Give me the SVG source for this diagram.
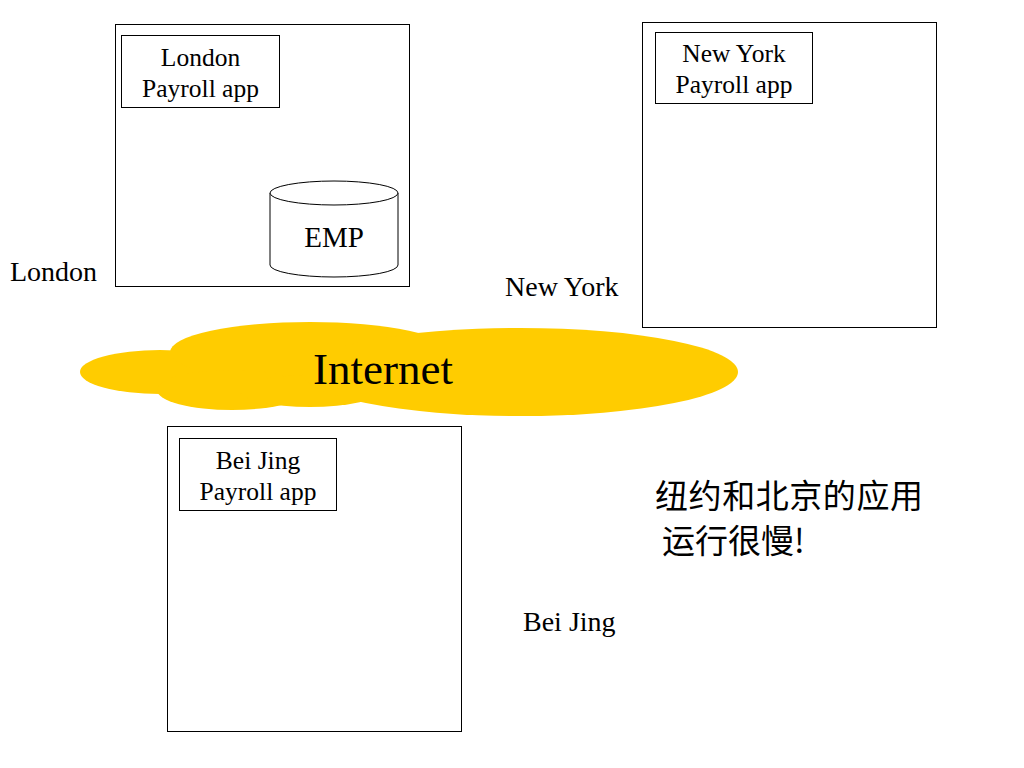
<svg xmlns="http://www.w3.org/2000/svg" width="1024" height="768" viewBox="0 0 1024 768">
<style>
.box{fill:#fff;stroke:#000;stroke-width:1}
.t{font-family:"Liberation Serif","Times New Roman",serif;font-size:25.5px;fill:#000}
.l{font-family:"Liberation Serif","Times New Roman",serif;font-size:28px;fill:#000}
.m{text-anchor:middle}
.cloud{fill:#FFCC00}
.zh{font-family:"Noto Sans CJK SC",sans-serif;font-size:33px;fill:#000}
</style>
<rect width="1024" height="768" fill="#fff"/>
<g id="internet">
<ellipse class="cloud" cx="160" cy="372" rx="80" ry="22"/>
<ellipse class="cloud" cx="310" cy="352" rx="140" ry="30"/>
<ellipse class="cloud" cx="232" cy="390" rx="75" ry="20"/>
<ellipse class="cloud" cx="310" cy="391" rx="70" ry="16"/>
<ellipse class="cloud" cx="520" cy="372" rx="218" ry="44"/>
<text x="313" y="384" style="font-family:'Liberation Serif',serif;font-size:45px">Internet</text>
</g>
<g id="london">
<rect class="box" x="115.5" y="24.5" width="294" height="262"/>
<g id="london-app">
<rect class="box" x="121.5" y="35.5" width="158" height="72"/>
<text class="t m" x="200.5" y="66">London</text>
<text class="t m" x="200.5" y="97">Payroll app</text>
</g>
<g id="emp">
<path d="M270,193 V265 A64,12 0 0 0 398,265 V193" fill="#fff" stroke="#000"/>
<ellipse cx="334" cy="193" rx="64" ry="12" fill="#fff" stroke="#000"/>
<text class="t m" x="334" y="247" style="font-size:29px">EMP</text>
</g>
<text class="l" x="10" y="281">London</text>
</g>
<g id="newyork">
<rect class="box" x="642.5" y="22.5" width="294" height="305"/>
<g id="newyork-app">
<rect class="box" x="655.5" y="32.5" width="157" height="71"/>
<text class="t m" x="734" y="62">New York</text>
<text class="t m" x="734" y="93">Payroll app</text>
</g>
<text class="l" x="505" y="296">New York</text>
</g>
<g id="beijing">
<rect class="box" x="167.5" y="426.5" width="294" height="305"/>
<g id="beijing-app">
<rect class="box" x="179.5" y="438.5" width="157" height="72"/>
<text class="t m" x="258" y="469">Bei Jing</text>
<text class="t m" x="258" y="500">Payroll app</text>
</g>
<text class="l" x="523" y="631">Bei Jing</text>
</g>
<g id="note">
<text class="zh" x="655" y="508" textLength="268">纽约和北京的应用</text>
<text class="zh" x="662" y="553">运行很慢!</text>
</g>
<g id="connectors"></g>
</svg>
